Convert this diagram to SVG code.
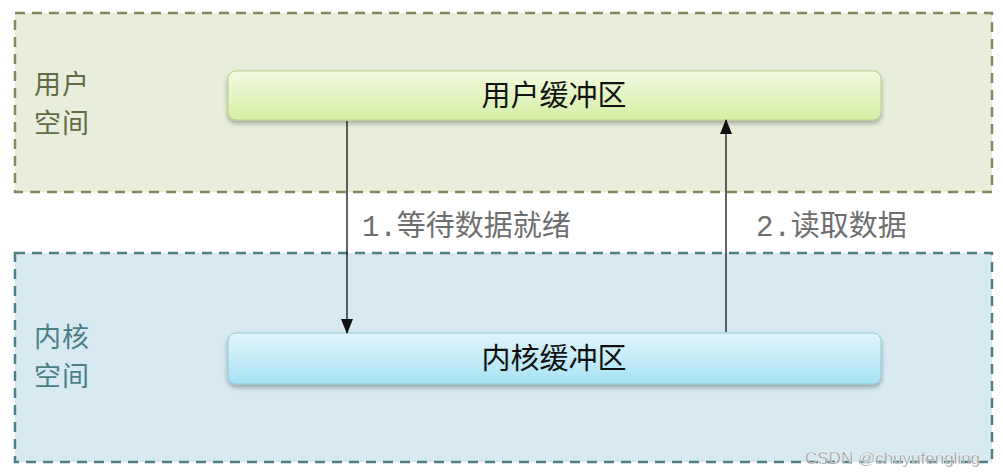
<svg xmlns="http://www.w3.org/2000/svg" width="1003" height="476" viewBox="0 0 1003 476">
<style>
.zone{stroke-width:2.5;stroke-dasharray:10 7}
.zl{font-family:"Noto Sans CJK SC","Noto Sans",sans-serif;font-size:27px;letter-spacing:1px}
.bt{font-family:"Noto Sans CJK SC","Noto Sans",sans-serif;font-size:29px;fill:#111;text-anchor:middle}
.el{font-family:"Liberation Mono","Noto Sans CJK SC",monospace;font-size:29px;fill:#6e6e6e}
.conn{stroke:#111;stroke-width:1.3;fill:none}
</style>
<defs>
<linearGradient id="gG" x1="0" y1="0" x2="0" y2="1"><stop offset="0" stop-color="#f3fbe0"/><stop offset="1" stop-color="#d4eea4"/></linearGradient>
<linearGradient id="gB" x1="0" y1="0" x2="0" y2="1"><stop offset="0" stop-color="#e2f5fb"/><stop offset="1" stop-color="#a6e2f5"/></linearGradient>
<filter id="sh" x="-5%" y="-30%" width="110%" height="170%"><feDropShadow dx="0" dy="3" stdDeviation="2.5" flood-color="#000" flood-opacity="0.3"/></filter>
<marker id="ah" markerWidth="15" markerHeight="12" refX="14" refY="6" orient="auto" markerUnits="userSpaceOnUse" viewBox="0 0 15 12"><path d="M0,0 L15,6 L0,12 Z" fill="#111"/></marker>
</defs>
<rect width="1003" height="476" fill="#fff"/>
<g id="user-space">
<rect class="zone" x="15" y="13" width="977" height="179" fill="#e9eedb" stroke="#7f8a5c"/>
<text class="zl" fill="#636b46" x="34" y="94">用户</text>
<text class="zl" fill="#636b46" x="34" y="133">空间</text>
</g>
<g id="kernel-space">
<rect class="zone" x="15" y="253" width="977" height="209" fill="#d7eaf2" stroke="#4f7f86"/>
<text class="zl" fill="#4a7f88" x="34" y="347">内核</text>
<text class="zl" fill="#4a7f88" x="34" y="386">空间</text>
</g>
<g id="user-buffer">
<rect x="228" y="71" width="653" height="49" rx="8" fill="url(#gG)" stroke="#b9cf8a" stroke-width="1" filter="url(#sh)"/>
<text class="bt" x="554" y="106">用户缓冲区</text>
</g>
<g id="kernel-buffer">
<rect x="228" y="333" width="653" height="51" rx="8" fill="url(#gB)" stroke="#8fcbdc" stroke-width="1" filter="url(#sh)"/>
<text class="bt" x="554" y="369">内核缓冲区</text>
</g>
<g id="connectors">
<line class="conn" x1="347" y1="121" x2="347" y2="333" marker-end="url(#ah)"/>
<line class="conn" x1="726" y1="332" x2="726" y2="120" marker-end="url(#ah)"/>
<text class="el" x="362" y="236">1.等待数据就绪</text>
<text class="el" x="756" y="236">2.读取数据</text>
</g>
<text x="805" y="464" font-family="Liberation Sans,sans-serif" font-size="17" fill="#8a8a8a" stroke="#fff" stroke-width="0.4">CSDN @chuyufengling</text>
</svg>
